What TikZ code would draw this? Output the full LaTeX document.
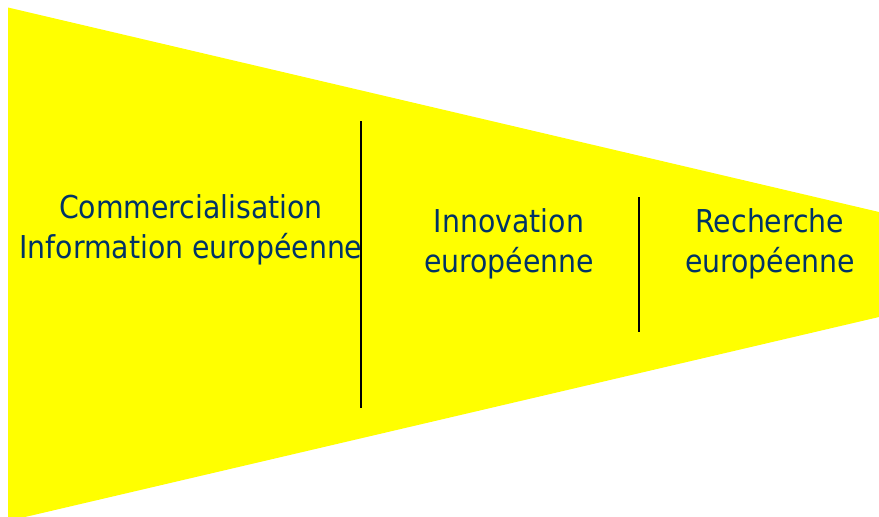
\documentclass[tikz,border=0pt]{standalone}
\usepackage{fontspec}
\setmainfont{DejaVu Sans Condensed}
\definecolor{funnel}{RGB}{255,255,0}
\definecolor{txt}{RGB}{0,51,102}
\begin{document}
\begin{tikzpicture}[x=1pt,y=-1pt,
  lbl/.style={text=txt,font=\fontsize{31.5}{39.5}\selectfont,align=center,inner sep=0pt,anchor=base},
  divider/.style={draw=black,line width=1.5pt}]
\useasboundingbox (0,0) rectangle (879,517);
\fill[funnel] (8,7.5) -- (879,212) -- (879,317) -- (8,521) -- cycle;
\coordinate (d1t) at (361,121);
\coordinate (d1b) at (361,408);
\coordinate (d2t) at (639,197);
\coordinate (d2b) at (639,332);
\node[lbl] (com) at (191,258) {Commercialisation\\Information européenne};
\node[lbl] (inn) at (509,272) {Innovation\\européenne};
\node[lbl] (rec) at (770,272) {Recherche\\européenne};
\draw[divider] (d1t) -- (d1b);
\draw[divider] (d2t) -- (d2b);
\end{tikzpicture}
\end{document}
